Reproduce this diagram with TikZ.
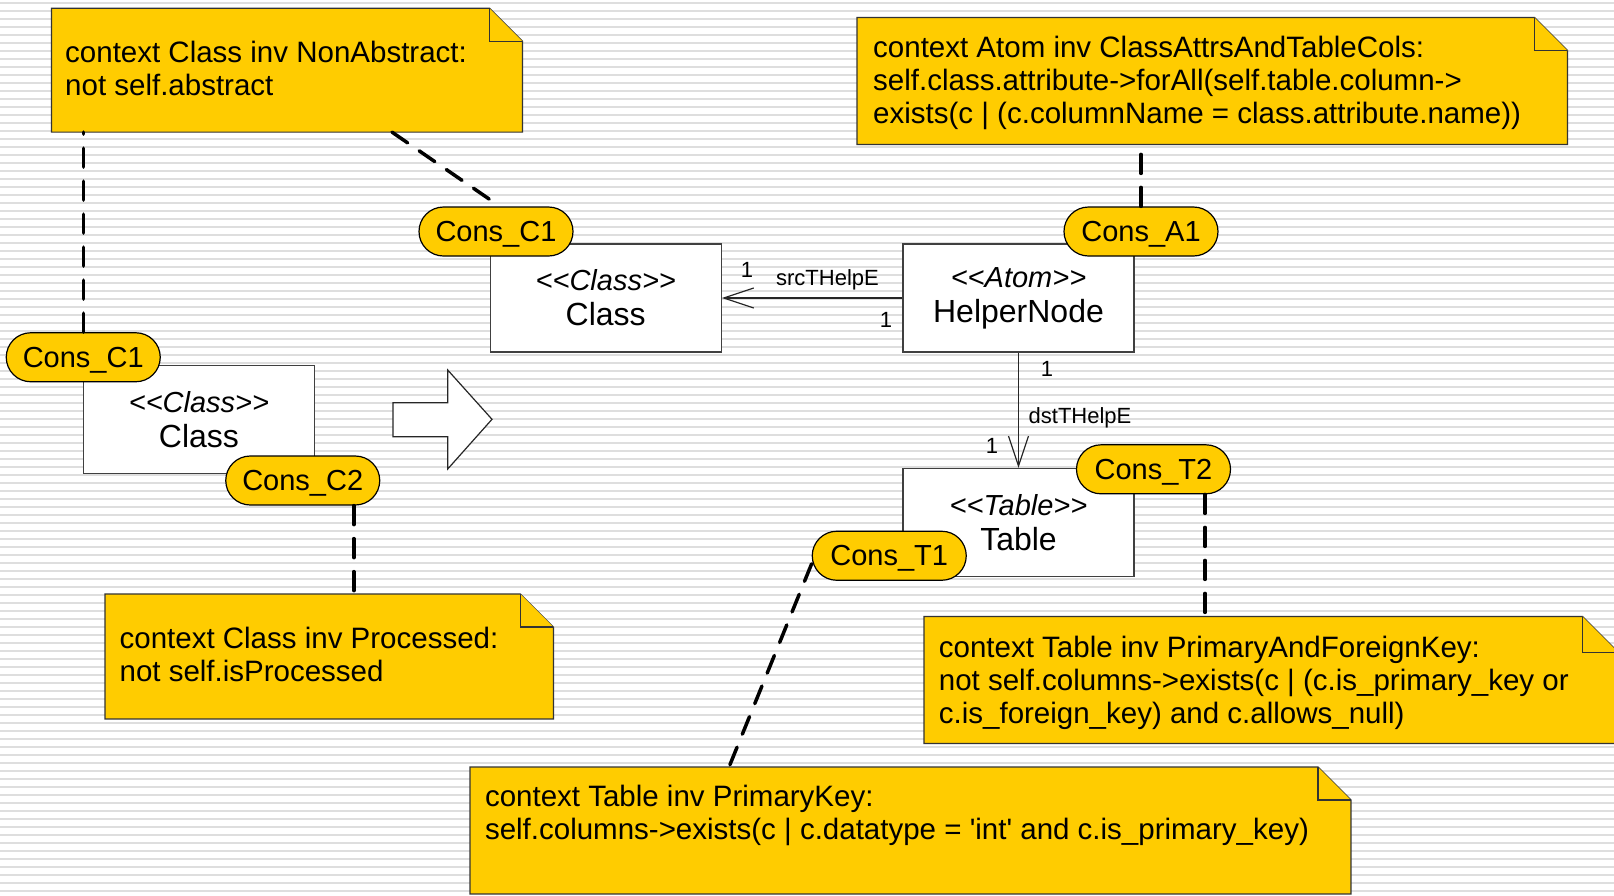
\documentclass[tikz,border=0pt]{standalone}
\usepackage{fontspec}
\newfontfamily\lsans{Liberation Sans}
\usetikzlibrary{shapes.misc,arrows.meta,calc}
\definecolor{noteyellow}{HTML}{FFCC00}
\definecolor{stripegray}{HTML}{DEDEDE}
\definecolor{boxborder}{HTML}{404040}
\newcommand\mynote[2]{%
  \draw[notefill] (#1.north west) -- ([xshift=-#2]#1.north east) -- ([yshift=-#2]#1.north east) -- (#1.south east) -- (#1.south west) -- cycle;
  \draw[notefill] ([xshift=-#2]#1.north east) -- ([xshift=-#2,yshift=-#2]#1.north east) -- ([yshift=-#2]#1.north east);}
\newcommand\stereo[1]{{\fontsize{29}{35}\selectfont\itshape #1}}
\begin{document}
\begin{tikzpicture}[x=1pt,y=-1pt,
  classbox/.style={draw=boxborder,fill=white,line width=1.2pt,minimum width=231pt,minimum height=108pt,inner sep=0pt,align=center,font=\lsans\fontsize{32}{35}\selectfont},
  pill/.style={rounded rectangle,draw=black,fill=noteyellow,line width=1.2pt,minimum width=154pt,minimum height=49pt,inner sep=0pt,text depth=0pt,font=\lsans\fontsize{29}{33}\selectfont},
  noteframe/.style={inner sep=0pt,anchor=north west},
  notefill/.style={fill=noteyellow,draw=black!80,line width=1.2pt,line join=miter},
  notetext/.style={inner sep=0pt,anchor=north west,align=left,font=\lsans\fontsize{29.5}{33}\selectfont},
  dashline/.style={line width=3.5pt,dash pattern=on 19pt off 14pt,line cap=round},
  assoc/.style={line width=1.2pt,draw=black!85},
  lbl/.style={inner sep=0pt,font=\lsans\fontsize{22}{24}\selectfont},
  blockarrow/.style={fill=white,draw=black!85,line width=1.2pt,line join=miter},
]
\useasboundingbox (0,0) rectangle (1614,895);
\fill[white] (0,0) rectangle (1614,895);
\foreach \k in {0,...,111} \fill[stripegray] (0,{1.5+8*\k}) rectangle (1614,{3.5+8*\k});

% note frames
\node[noteframe,minimum width=470.5pt,minimum height=123.5pt] (note1) at (51.5,8.2) {};
\node[noteframe,minimum width=710pt,minimum height=126.5pt] (note2) at (857,17.5) {};
\node[noteframe,minimum width=448pt,minimum height=124.5pt] (note3) at (105,594) {};
\node[noteframe,minimum width=694pt,minimum height=126.5pt] (note4) at (924,616.5) {};
\node[noteframe,minimum width=880.5pt,minimum height=126.5pt] (note5) at (470,767) {};
\mynote{note1}{33pt}
\mynote{note2}{33pt}
\mynote{note3}{33pt}
\mynote{note4}{36pt}
\mynote{note5}{33pt}

\node[notetext] (t1) at (65,40.7) {context Class inv NonAbstract:\\not self.abstract};
\node[notetext] (t2) at (873,35.5) {context Atom inv ClassAttrsAndTableCols:\\self.class.attribute->forAll(self.table.column->\\exists(c | (c.columnName = class.attribute.name))};
\node[notetext] (t3) at (119.4,627) {context Class inv Processed:\\not self.isProcessed};
\node[notetext] (t4) at (938.7,635.6) {context Table inv PrimaryAndForeignKey:\\not self.columns->exists(c | (c.is\_primary\_key or\\c.is\_foreign\_key) and c.allows\_null)};
\node[notetext] (t5) at (484.8,784.8) {context Table inv PrimaryKey:\\self.columns->exists(c | c.datatype = 'int' and c.is\_primary\_key)};

% class boxes
\node[classbox] (classT) at (605.75,298) {\stereo{<<Class>>}\\Class};
\node[classbox] (helper) at (1018.5,298) {\stereo{<<Atom>>}\\HelperNode};
\node[classbox] (table) at (1018.5,522.5) {\stereo{<<Table>>}\\Table};
\node[classbox] (classL) at (199,419.5) {\stereo{<<Class>>}\\Class};

% associations
\draw[assoc,-{Straight Barb[length=30pt,width=20pt]}] (helper.west) -- (classT.east);
\draw[assoc,-{Straight Barb[length=30pt,width=20pt]}] (helper.south) -- (table.north);
\node[lbl] (l1) at (747,270) {1};
\node[lbl] (l2) at (827.5,280) {srcTHelpE};
\node[lbl] (l3) at (886,320) {1};
\node[lbl] (l4) at (1047,368.5) {1};
\node[lbl] (l5) at (1080,418) {dstTHelpE};
\node[lbl] (l6) at (992,446) {1};

% block arrow
\draw[blockarrow] (393,402.7) -- (447.7,402.7) -- (447.7,370) -- (492,419.3) -- (447.7,469) -- (447.7,436.7) -- (393,436.7) -- cycle;

% pills
\node[pill] (c1top) at (496,231.5) {Cons\_C1};
\node[pill] (a1) at (1141,231.5) {Cons\_A1};
\node[pill] (c1left) at (83.25,357.25) {Cons\_C1};
\node[pill] (c2) at (302.75,480.5) {Cons\_C2};
\node[pill] (t2p) at (1153.5,469.3) {Cons\_T2};
\node[pill] (t1p) at (889.25,555.75) {Cons\_T1};

% dashed constraint links
\draw[dashline] (c1left.north) -- (c1left.north |- note1.south);
\draw[dashline] ($(note1.south west)+(340.5,0)$) -- ([xshift=-2pt,yshift=4pt]c1top.north);
\draw[dashline] (a1.north) -- (a1.north |- note2.south);
\draw[dashline] ([xshift=51pt]c2.south) -- ([xshift=51pt]c2.south |- note3.north);
\draw[dashline] ([xshift=51.5pt]t2p.south) -- ([xshift=51.5pt]t2p.south |- note4.north);
\draw[dashline] ([yshift=-8pt]t1p.west) -- ($(note5.north west)+(259,0)$);
\end{tikzpicture}
\end{document}
